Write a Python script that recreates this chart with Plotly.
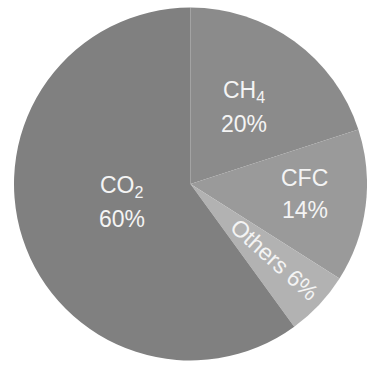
import plotly.graph_objects as go
import math

# Data
labels = ["CH4", "CFC", "Others", "CO2"]
label_html = ["CH<sub>4</sub>", "CFC", "Others", "CO<sub>2</sub>"]
values = [20, 14, 6, 60]
colors = ["#8b8b8b", "#9a9a9a", "#b2b2b2", "#808080"]

W, H = 367, 365
cx, cy, r = 190.5, 184.0, 176.5  # pixel geometry of pie

fig = go.Figure(go.Pie(
    labels=labels, values=values, sort=False, direction="clockwise",
    rotation=0, marker=dict(colors=colors, line=dict(width=0)),
    textinfo="none", hoverinfo="label+percent", showlegend=False,
    domain=dict(x=[(cx - r) / W, (cx + r) / W], y=[(H - cy - r) / H, (H - cy + r) / H]),
))

# label placement: (angle of label centre from 12 o'clock, radius fraction, layout mode)
place = {
    "CH4": (35, 0.527, "stack"),
    "CFC": (95, 0.651, "stack"),
    "Others": (132, 0.644, "radial"),
    "CO2": (254.5, 0.40, "stack"),
}
total = sum(values)
font = dict(family="Liberation Sans, Arial", size=23, color="#f4f4f4")
for lab, html, v in zip(labels, label_html, values):
    ang, rf, mode = place[lab]
    a = math.radians(ang)
    px = cx + rf * r * math.sin(a)
    py = cy - rf * r * math.cos(a)
    pct = f"{round(100 * v / total)}%"
    if mode == "stack":
        fig.add_annotation(x=px / W, y=1 - (py - 16) / H, xref="paper", yref="paper",
                           text=html, showarrow=False, font=font, xanchor="center", yanchor="middle")
        fig.add_annotation(x=px / W, y=1 - (py + 16) / H, xref="paper", yref="paper",
                           text=pct, showarrow=False, font=font, xanchor="center", yanchor="middle")
    else:
        rot = ang - 90
        fig.add_annotation(x=px / W, y=1 - py / H, xref="paper", yref="paper",
                           text=f"{html} {pct}", showarrow=False, font=font,
                           textangle=rot, xanchor="center", yanchor="middle")

fig.update_layout(width=W, height=H, margin=dict(l=0, r=0, t=0, b=0),
                  paper_bgcolor="white", plot_bgcolor="white")
fig.write_html("out.html")
